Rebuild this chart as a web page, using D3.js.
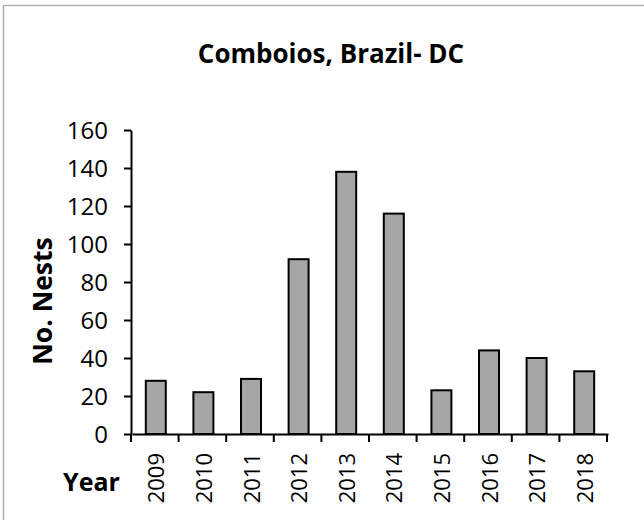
<!DOCTYPE html>
<html>
<head>
<meta charset="utf-8">
<script src="https://cdn.jsdelivr.net/npm/d3@7"></script>
<style>
  html, body { margin: 0; padding: 0; background: #fff; }
  svg { display: block; }
  text { font-family: "Open Sans", "DejaVu Sans", sans-serif; fill: #000; }
</style>
</head>
<body>
<svg id="chart" width="644" height="520"></svg>
<script>
const years = ["2009","2010","2011","2012","2013","2014","2015","2016","2017","2018"];
const nests = [28, 22, 29, 92, 138, 116, 23, 44, 40, 33];
const yTicks = [0, 20, 40, 60, 80, 100, 120, 140, 160];
const chartTitle = "Comboios, Brazil- DC";
const yTitle = "No. Nests";
const xTitle = "Year";

const svg = d3.select("#chart");

// outer border
svg.append("rect")
  .attr("x", 3.5).attr("y", 5.5)
  .attr("width", 700).attr("height", 600)
  .attr("fill", "none").attr("stroke", "#b0b0b0").attr("stroke-width", 1.5);

const plotLeft = 131, plotRight = 607, plotTop = 130, plotBottom = 434;

const x = d3.scaleBand().domain(years).range([plotLeft + 1, plotRight + 1]).paddingInner(0.58).paddingOuter(0.29);
const y = d3.scaleLinear().domain([0, 160]).range([plotBottom, plotTop]);

// bars
svg.append("g").selectAll("rect")
  .data(years.map((yr, i) => ({ yr, v: nests[i] })))
  .join("rect")
  .attr("x", d => x(d.yr))
  .attr("y", d => y(d.v))
  .attr("width", x.bandwidth())
  .attr("height", d => y(0) - y(d.v))
  .attr("fill", "#a6a6a6")
  .attr("stroke", "#000")
  .attr("stroke-width", 2);

// y axis
const yAxis = svg.append("g")
  .attr("transform", `translate(${plotLeft},0)`)
  .call(d3.axisLeft(y).tickValues(yTicks).tickSize(7).tickSizeOuter(0).tickPadding(16));
yAxis.select(".domain").attr("stroke", "#000").attr("stroke-width", 2);
yAxis.selectAll(".tick line").attr("stroke", "#000").attr("stroke-width", 2);
yAxis.selectAll(".tick text")
  .style("font-family", '"Open Sans", sans-serif')
  .style("font-size", "24px")
  .attr("dy", "0.36em");

// x axis line
const xAxis = svg.append("g")
  .attr("transform", `translate(0,${plotBottom})`)
  .call(d3.axisBottom(x).tickSize(0).tickSizeOuter(0).tickFormat(""));
xAxis.select(".domain").attr("stroke", "#000").attr("stroke-width", 2);
xAxis.selectAll(".tick").remove();

// category boundary ticks
const boundaries = years.map(yr => x(yr) - x.step() * x.paddingInner() / 2)
  .concat([x(years[years.length - 1]) + x.bandwidth() + x.step() * x.paddingInner() / 2]);
svg.append("g").selectAll("line")
  .data(boundaries)
  .join("line")
  .attr("x1", d => d - 1).attr("x2", d => d - 1)
  .attr("y1", plotBottom).attr("y2", plotBottom + 8)
  .attr("stroke", "#000").attr("stroke-width", 2);

// year labels
svg.append("g").selectAll("text")
  .data(years)
  .join("text")
  .attr("transform", d => `translate(${x(d) + x.bandwidth() / 2 + 8.5},453) rotate(-90)`)
  .attr("text-anchor", "end")
  .style("font-size", "22px")
  .text(d => d);

// title
svg.append("text")
  .attr("x", 331).attr("y", 63)
  .attr("text-anchor", "middle")
  .style("font-size", "26px").style("font-weight", "bold")
  .text(chartTitle);

// y title
svg.append("text")
  .attr("transform", "translate(52,301) rotate(-90)")
  .attr("text-anchor", "middle")
  .style("font-size", "26.5px").style("font-weight", "bold")
  .text(yTitle);

// x title
svg.append("text")
  .attr("x", 91.5).attr("y", 491)
  .attr("text-anchor", "middle")
  .style("font-size", "25px").style("font-weight", "bold")
  .text(xTitle);
</script>
</body>
</html>
